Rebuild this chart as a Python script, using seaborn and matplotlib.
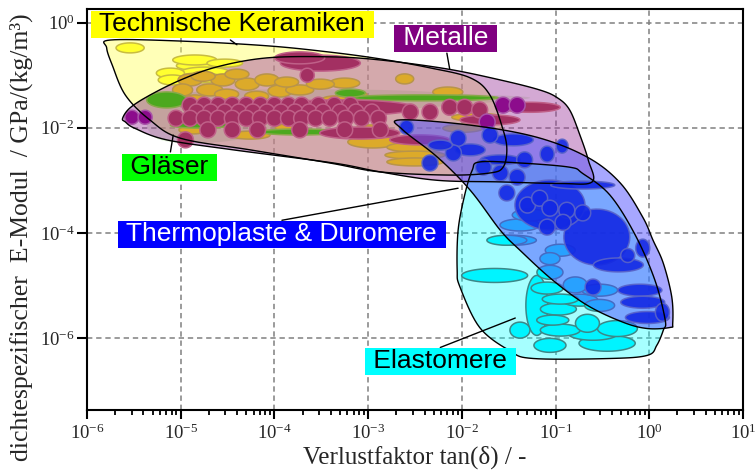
import numpy as np
import matplotlib
matplotlib.use("Agg")
import matplotlib.pyplot as plt
from matplotlib.ticker import LogLocator, NullLocator, NullFormatter
import seaborn as sns

# ---------------------------------------------------------------
# Material property envelopes, in decades:
#   x = log10(loss factor tan δ), y = log10(E/ρ in GPa/(kg/m³))
# ---------------------------------------------------------------
ceramics_env_x = [-5.75, -5.00, -4.08, -3.41, -2.87, -2.34, -1.91, -1.70, -1.56, -1.52,
                  -1.56, -1.70, -2.13, -2.87, -3.41, -4.26, -5.00, -5.33, -5.59, -5.73, -5.79]
ceramics_env_y = [-0.33, -0.35, -0.44, -0.56, -0.69, -0.86, -1.05, -1.38, -2.04, -2.42,
                  -2.75, -2.86, -2.90, -2.84, -2.67, -2.42, -2.20, -1.85, -1.38, -0.81, -0.48]

glass_env_x = [-5.38, -4.26, -2.87, -1.91, -1.27, -1.91, -2.87, -3.73, -4.58, -5.22, -5.38]
glass_env_y = [-1.42, -1.28, -1.28, -1.36, -1.43, -1.55, -1.70, -2.00, -2.27, -2.23, -1.85]

metals_env_x = [-5.62, -5.54, -5.33, -5.00, -4.61, -4.08, -3.41, -2.87, -2.16, -1.59, -1.17,
                -0.98, -0.85, -0.74, -0.65, -0.61, -0.95, -1.59, -2.26, -2.87, -3.37, -4.44,
                -5.15, -5.49, -5.59]
metals_env_y = [-1.82, -1.62, -1.38, -1.09, -0.84, -0.67, -0.65, -0.71, -0.88, -1.09, -1.28,
                -1.43, -1.66, -2.14, -2.62, -3.03, -3.06, -3.03, -3.00, -2.84, -2.67, -2.42,
                -2.23, -2.01, -1.89]

thermo_env_x = [-2.66, -1.91, -1.20, -0.66, -0.31, -0.07, 0.04, 0.15, 0.24, 0.25, 0.22,
                -0.02, -0.28, -0.66, -1.03, -1.38, -1.59, -1.91, -2.26, -2.63]
thermo_env_y = [-1.85, -1.95, -2.18, -2.56, -3.05, -3.70, -4.14, -4.58, -5.22, -5.72, -5.80,
                -5.82, -5.70, -5.38, -4.90, -4.33, -3.95, -3.19, -2.56, -2.04]

elasto_env_x = [-1.81, -1.38, -0.85, -0.71, -0.42, -0.15, 0.06, 0.17, 0.15, 0.08, -0.02,
                -0.42, -1.24, -1.49, -1.81, -2.02, -2.05, -2.04, -1.97, -1.89]
elasto_env_y = [-2.65, -2.67, -2.75, -2.87, -3.28, -4.04, -4.90, -5.66, -5.85, -6.14, -6.33,
                -6.39, -6.39, -6.24, -5.80, -5.03, -4.71, -3.95, -3.28, -2.81]

# ---------------------------------------------------------------
# Individual materials: centre and half-extent, in decades
# ---------------------------------------------------------------
cer_light_x = [-5.54, -4.85, -4.79, -4.74, -5.11, -5.09, -4.79, -4.53]
cer_light_y = [-0.48, -0.71, -0.82, -0.94, -0.96, -1.09, -1.05, -0.77]
cer_light_rx = [0.15, 0.235, 0.256, 0.256, 0.15, 0.15, 0.235, 0.19]
cer_light_ry = [0.095, 0.095, 0.095, 0.095, 0.095, 0.095, 0.095, 0.076]

cer_x = [-4.98, -4.90, -4.76, -4.69, -4.55, -4.51, -4.40, -4.29, -4.19, -4.08, -3.94, -3.87,
         -3.73, -3.51, -3.25, -3.16, -3.35, -2.61, -2.15, -2.95, -2.48, -2.50, -2.50, -1.84,
         -1.99, -4.26, -2.96, -4.85, -4.87, -3.83]
cer_y = [-1.28, -1.09, -1.02, -1.28, -1.09, -1.36, -0.98, -1.17, -1.40, -1.09, -1.30, -1.13,
         -1.28, -1.17, -1.15, -1.38, -1.47, -1.07, -1.32, -2.27, -2.37, -2.52, -2.65, -1.80,
         -2.01, -2.14, -2.04, -1.47, -2.04, -2.00]
cer_rx = [0.107, 0.128, 0.128, 0.139, 0.128, 0.128, 0.128, 0.128, 0.128, 0.128, 0.128, 0.128,
          0.149, 0.149, 0.16, 0.149, 0.149, 0.096, 0.16, 0.267, 0.32, 0.32, 0.30, 0.267,
          0.213, 0.213, 0.19, 0.128, 0.149, 0.16]
cer_ry = [0.114, 0.114, 0.095, 0.114, 0.114, 0.095, 0.095, 0.114, 0.095, 0.114, 0.114, 0.095,
          0.095, 0.095, 0.095, 0.095, 0.076, 0.095, 0.095, 0.114, 0.095, 0.076, 0.076, 0.076,
          0.076, 0.076, 0.095, 0.095, 0.076, 0.076]

glass_x = [-5.15, -3.83, -2.41, -3.19, -4.79, -3.73]
glass_y = [-1.47, -1.62, -1.43, -1.34, -1.95, -2.08]
glass_rx = [0.213, 1.07, 0.80, 0.16, 0.32, 0.427]
glass_ry = [0.152, 0.057, 0.057, 0.076, 0.057, 0.057]

metal_x = [-3.51, -3.73, -3.65, -3.30, -3.09, -2.45, -1.70, -1.27,
           -4.90, -4.75, -4.60, -4.45, -4.30, -4.15, -4.00, -3.85, -3.71, -3.53, -3.36, -3.19,
           -4.83, -4.68, -4.53, -4.38, -4.23, -4.08, -3.93, -3.78, -3.63, -3.48, -3.30, -3.13,
           -2.96,
           -5.05, -4.90, -4.75, -4.60, -4.45, -4.30, -4.15, -4.00, -3.85, -3.71, -3.56, -3.41,
           -3.24, -3.07, -2.89,
           -4.71, -4.45, -4.18, -3.73, -3.25, -2.87,
           -4.95, -2.55, -2.34, -2.13, -1.97, -1.81]
metal_y = [-0.77, -0.67, -1.00, -1.62, -2.10, -2.23, -1.85, -1.61,
           -1.57, -1.57, -1.57, -1.57, -1.57, -1.57, -1.57, -1.57, -1.57, -1.57, -1.57, -1.57,
           -1.70, -1.70, -1.70, -1.70, -1.70, -1.70, -1.70, -1.70, -1.70, -1.70, -1.70, -1.70,
           -1.70,
           -1.82, -1.82, -1.82, -1.82, -1.82, -1.82, -1.82, -1.82, -1.82, -1.82, -1.82, -1.82,
           -1.82, -1.82, -1.82,
           -2.04, -2.04, -2.04, -2.04, -2.04, -2.04,
           -2.23, -1.70, -1.70, -1.61, -1.61, -1.66]
metal_rx = [0.427, 0.267, 0.075, 0.80, 0.427, 0.32, 0.32, 0.32] + [0.085] * 52
metal_ry = [0.152, 0.114, 0.133, 0.152, 0.114, 0.095, 0.095, 0.095] + [0.152] * 52

metal_dark_x = [-5.52, -5.38, -1.56, -1.41, -1.73]
metal_dark_y = [-1.80, -1.80, -1.57, -1.57, -1.89]
metal_dark_rx = [0.075, 0.075, 0.085, 0.085, 0.085]
metal_dark_ry = [0.133, 0.133, 0.152, 0.152, 0.152]

elasto_x = [-1.65, -1.45, -1.06, -1.06, -1.09, -0.95, -0.97, -1.03, -0.95, -1.06, -1.20,
            -0.60, -0.45, -0.66, -0.34, -0.74, -0.53, -1.38, -1.52, -1.27, -0.95, -0.53,
            -0.79, -1.38]
elasto_y = [-4.81, -4.14, -4.49, -4.75, -5.05, -5.26, -5.45, -5.66, -5.85, -6.14, -5.38,
            -5.91, -6.10, -5.72, -5.82, -5.28, -5.38, -3.85, -4.14, -3.66, -4.33, -5.09,
            -4.99, -5.85]
elasto_rx = [0.352, 0.245, 0.107, 0.139, 0.171, 0.192, 0.192, 0.171, 0.213, 0.171, 0.117,
             0.267, 0.30, 0.128, 0.213, 0.192, 0.16, 0.213, 0.213, 0.192, 0.16, 0.192,
             0.128, 0.107]
elasto_ry = [0.133, 0.095, 0.114, 0.133, 0.114, 0.095, 0.114, 0.095, 0.114, 0.133, 0.571,
             0.133, 0.152, 0.171, 0.152, 0.114, 0.114, 0.114, 0.095, 0.114, 0.114, 0.114,
             0.152, 0.152]

thermo_x = [-2.59, -2.04, -2.09, -2.34, -1.45, -0.93, -1.09, -1.77, -1.59, -1.41, -1.52,
            -1.30, -1.17, -1.06, -0.88, -0.71, -0.92, -1.09, -0.56, -1.06, -0.71, -0.33,
            -0.10, -0.07, -0.02, 0.14, -0.23, -0.60, -0.07, -1.91, -2.23, -1.59, -1.70, -1.33]
thermo_y = [-1.99, -2.20, -2.48, -2.67, -2.23, -2.35, -2.50, -2.75, -2.86, -2.94, -3.24,
            -3.47, -3.34, -3.53, -3.57, -3.62, -3.80, -3.89, -4.08, -3.47, -3.09, -4.61,
            -5.09, -5.32, -5.61, -5.51, -4.43, -5.03, -4.29, -2.42, -2.33, -2.61, -2.14, -2.61]
thermo_rx = [0.075, 0.085, 0.085, 0.085, 0.213, 0.064, 0.075, 0.085, 0.085, 0.085, 0.085,
             0.085, 0.085, 0.085, 0.085, 0.085, 0.085, 0.085, 0.352, 0.374, 0.342, 0.267,
             0.235, 0.235, 0.235, 0.075, 0.075, 0.085, 0.075, 0.16, 0.128, 0.213, 0.085, 0.085]
thermo_ry = [0.133, 0.152, 0.152, 0.152, 0.114, 0.133, 0.152, 0.152, 0.152, 0.152, 0.152,
             0.152, 0.152, 0.152, 0.152, 0.152, 0.152, 0.152, 0.533, 0.476, 0.076, 0.133,
             0.114, 0.114, 0.114, 0.171, 0.133, 0.152, 0.171, 0.114, 0.095, 0.095, 0.152, 0.152]

# Class labels: text, box centre (decades), box colour, text colour, leader line (decades)
label_text = ["Technische Keramiken", "Metalle", "Gläser", "Thermoplaste & Duromere", "Elastomere"]
label_x = [-4.45, -2.17, -5.12, -3.92, -2.23]
label_y = [-0.03, -0.30, -2.75, -4.03, -6.44]
label_box = ["#ffff00", "#800080", "#00ff00", "#0000ff", "#00ffff"]
label_fg = ["black", "white", "black", "white", "black"]
leader_x = [(-4.47, -4.40), (-2.16, -2.13), (-5.11, -5.08), (-3.92, -2.04), (-2.23, -1.43)]
leader_y = [(-0.33, -0.42), (-0.58, -0.88), (-2.46, -2.14), (-3.76, -3.15), (-6.18, -5.62)]

x_decades = [-6, -5, -4, -3, -2, -1, 0, 1]
y_decades = [0, -2, -4, -6]

# ---------------------------------------------------------------
sns.set_theme(style="ticks")
plt.rcParams["font.family"] = ["Liberation Serif", "DejaVu Serif"]
plt.rcParams["mathtext.fontset"] = "custom"
plt.rcParams["mathtext.rm"] = "Liberation Serif"
plt.rcParams["mathtext.it"] = "Liberation Serif:italic"
plt.rcParams["mathtext.bf"] = "Liberation Serif:bold"

fig = plt.figure(figsize=(7.56, 4.74), dpi=100)
ax = fig.add_axes([87 / 756, 1 - 410 / 474, (743 - 87) / 756, (410 - 9) / 474])
ax.set_xscale("log")
ax.set_yscale("log")
ax.set_xlim(1e-6, 1e1)
ax.set_ylim(10 ** -7.37, 10 ** 0.26)


def smooth_closed(xs, ys, n=10):
    p = np.column_stack([xs, ys])
    k = len(p)
    t = np.linspace(0, 1, n, endpoint=False)[:, None]
    segs = []
    for i in range(k):
        p0, p1, p2, p3 = p[i - 1], p[i], p[(i + 1) % k], p[(i + 2) % k]
        segs.append(0.5 * (2 * p1 + (-p0 + p2) * t + (2 * p0 - 5 * p1 + 4 * p2 - p3) * t ** 2
                           + (-p0 + 3 * p1 - 3 * p2 + p3) * t ** 3))
    s = np.vstack(segs)
    return 10 ** s[:, 0], 10 ** s[:, 1]


def fill_env(xs, ys, color, alpha, z):
    ex, ey = smooth_closed(xs, ys)
    ax.fill(ex, ey, color=color, alpha=alpha, lw=0, zorder=z)
    return ex, ey


def draw_ellipses(cx, cy, rx, ry, fc, ec, z, alpha=1.0, lw=1.1):
    t = np.linspace(0, 2 * np.pi, 60)
    order = np.argsort(-np.array(rx) * np.array(ry), kind="stable")
    for i in order:
        ex = 10 ** (cx[i] + rx[i] * np.cos(t))
        ey = 10 ** (cy[i] + ry[i] * np.sin(t))
        ax.fill(ex, ey, facecolor=fc, edgecolor=ec, lw=lw, alpha=alpha, zorder=z)


outlines = []
outlines.append(fill_env(ceramics_env_x, ceramics_env_y, "#ffff60", 0.45, 2))
outlines.append(fill_env(glass_env_x, glass_env_y, "#60c030", 0.18, 2.1))
outlines.append(fill_env(metals_env_x, metals_env_y, "#a040a0", 0.45, 2.2))

draw_ellipses(cer_light_x, cer_light_y, cer_light_rx, cer_light_ry, "#ffff30", "#c8bc40", 3)
draw_ellipses(cer_x, cer_y, cer_rx, cer_ry, "#dcaa2a", "#b8944a", 3.1)
draw_ellipses(glass_x, glass_y, glass_rx, glass_ry, "#4ca81e", "#88a84a", 3.2)
draw_ellipses(metal_x, metal_y, metal_rx, metal_ry, "#a33062", "#bf6088", 3.3)
draw_ellipses(metal_dark_x, metal_dark_y, metal_dark_rx, metal_dark_ry, "#8c0c8c", "#a854a8", 3.4)

outlines.append(fill_env(elasto_env_x, elasto_env_y, "#00ffff", 0.35, 4))
draw_ellipses(elasto_x, elasto_y, elasto_rx, elasto_ry, "#00f4ff", "#3c8888", 4.1)

outlines.append(fill_env(thermo_env_x, thermo_env_y, "#5050ff", 0.5, 5))
draw_ellipses(thermo_x, thermo_y, thermo_rx, thermo_ry, "#1228e4", "#5a64c8", 5.1, alpha=0.9)

for i, (ex, ey) in enumerate(outlines):
    if i == 1:
        continue
    ax.fill(ex, ey, facecolor="none", edgecolor="black", lw=1.0, zorder=6)

# class labels with leader lines
for txt, lx, ly, bc, fg, lnx, lny in zip(label_text, label_x, label_y, label_box, label_fg,
                                         leader_x, leader_y):
    ax.plot([10 ** v for v in lnx], [10 ** v for v in lny], color="black", lw=1.0, zorder=7)
    ax.text(10 ** lx, 10 ** ly, " " + txt + " ", ha="center", va="center", fontsize=19,
            family=["Liberation Sans", "DejaVu Sans"], color=fg, zorder=8,
            bbox=dict(boxstyle="square,pad=0.06", fc=bc, ec="none"))

# axes, ticks, grid
ax.set_xticks([10.0 ** d for d in x_decades])
ax.set_xticklabels([r"$\mathregular{10^{%d}}$" % d for d in x_decades])
ax.xaxis.set_minor_locator(LogLocator(base=10, subs=np.arange(2, 10), numticks=20))
ax.xaxis.set_minor_formatter(NullFormatter())
ax.set_yticks([10.0 ** d for d in y_decades])
ax.set_yticklabels([r"$\mathregular{10^{%d}}$" % d for d in y_decades])
ax.yaxis.set_minor_locator(NullLocator())

ax.tick_params(axis="both", which="major", direction="out", length=6.5, width=1.5,
               color="black", labelsize=13.5, pad=3)
ax.tick_params(axis="y", which="major", length=7.5, pad=1.5)
ax.tick_params(axis="x", which="minor", direction="out", length=3.5, width=1.3, color="black")

ax.grid(True, which="major", color="#808080", linestyle=(0, (3.5, 2.5)), lw=1.1)
ax.set_axisbelow(True)
for s in ax.spines.values():
    s.set_color("black")
    s.set_linewidth(1.5)
    s.set_zorder(10)

ax.set_xlabel(r"Verlustfaktor tan(δ) / -", fontsize=18, labelpad=2)
fig.text(21 / 756, 1 - 237 / 474, "dichtespezifischer  E-Modul  / GPa/(kg/m³)",
         rotation=90, ha="center", va="center", fontsize=18.5)

fig.savefig("out.png", dpi=100, facecolor="white")
